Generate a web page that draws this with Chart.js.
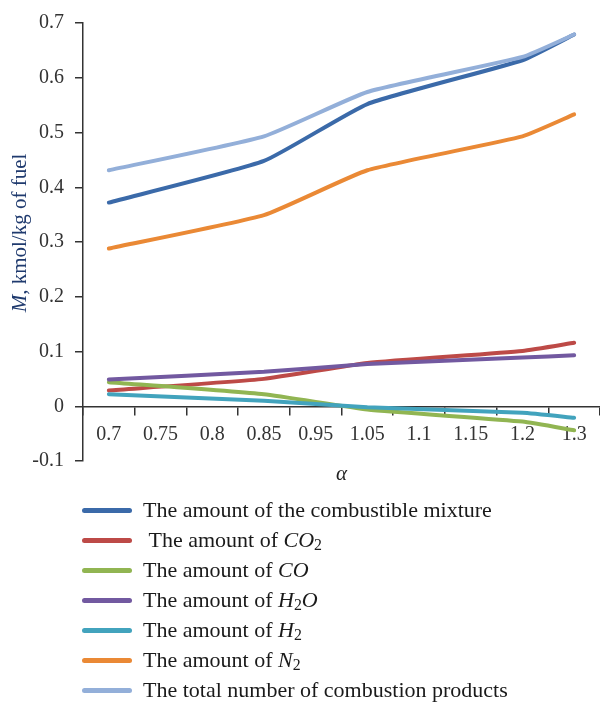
<!DOCTYPE html>
<html>
<head>
<meta charset="utf-8">
<script src="https://cdn.jsdelivr.net/npm/chart.js@4.4.0/dist/chart.umd.min.js"></script>
<style>
  html, body { margin: 0; padding: 0; background: #fff; }
  #wrap { position: relative; width: 600px; height: 704px; overflow: hidden; }
  #chart { position: absolute; left: 0; top: 0; }
  #legend {
    position: absolute; left: 82px; top: 495px;
    font-family: 'Liberation Serif', 'Times New Roman', serif;
    font-size: 22px; color: #1a1a1a;
  }
  .row { height: 30px; display: flex; align-items: center; white-space: nowrap; }
  .swatch { width: 50px; height: 5px; border-radius: 3px; margin-right: 11px; flex: none; }
  sub { font-size: 0.72em; vertical-align: -0.22em; line-height: 0; }
</style>
</head>
<body>
<div id="wrap">
  <canvas id="chart" width="600" height="704"></canvas>
  <div id="legend"></div>
</div>
<script>
// x categories (alpha)
const alphaLabels = ['0.7', '0.75', '0.8', '0.85', '0.95', '1.05', '1.1', '1.15', '1.2', '1.3'];

// values read at the kinks (0.7, 0.85, 1.05, 1.2, 1.3); the rest are left empty
const mixture = [0.372, null, null, 0.448, null, 0.552, null, null, 0.632, 0.679];
const co2     = [0.029, null, null, 0.050, null, 0.079, null, null, 0.101, 0.116];
const co      = [0.044, null, null, 0.022, null, -0.006, null, null, -0.028, -0.044];
const h2o     = [0.049, null, null, 0.063, null, 0.077, null, null, 0.089, 0.093];
const h2      = [0.022, null, null, 0.010, null, -0.002, null, null, -0.012, -0.021];
const n2      = [0.288, null, null, 0.349, null, 0.431, null, null, 0.493, 0.533];
const total   = [0.431, null, null, 0.493, null, 0.574, null, null, 0.638, 0.679];

const seriesNames = [
  'The amount of the combustible mixture',
  '&nbsp;The amount of <i>CO</i><sub>2</sub>',
  'The amount of <i>CO</i>',
  'The amount of <i>H</i><sub>2</sub><i>O</i>',
  'The amount of <i>H</i><sub>2</sub>',
  'The amount of <i>N</i><sub>2</sub>',
  'The total number of combustion products',
];
const seriesData = [mixture, co2, co, h2o, h2, n2, total];
const seriesColors = ['#3b6aa9', '#bd4a47', '#91b552', '#7259a0', '#42a3bd', '#ea8935', '#93afd9'];

const yTicks = { min: -0.1, max: 0.7, step: 0.1 };
const xTitle = 'α';
const yTitleItalic = 'M';
const yTitleRest = ', kmol/kg of fuel';

const axisColor = '#333';
const serif = "'Liberation Serif', 'Times New Roman', serif";

const stripTags = (html) => html.replace(/<[^>]+>/g, '').replace(/&nbsp;/g, '').trim();

const datasets = seriesData.map((data, i) => ({
  label: stripTags(seriesNames[i]),
  data,
  borderColor: seriesColors[i],
  backgroundColor: seriesColors[i],
  borderWidth: 4,
  pointRadius: 0,
  pointHoverRadius: 0,
  tension: 0.15,
  spanGaps: true,
  borderCapStyle: 'round',
  borderJoinStyle: 'round',
  order: seriesData.length - i,
}));

// axis titles: M is italic, the rest upright
const axisTitles = {
  id: 'axisTitles',
  afterDraw(chart) {
    const { ctx, chartArea } = chart;
    ctx.save();
    ctx.fillStyle = '#222';
    ctx.textBaseline = 'middle';
    ctx.textAlign = 'center';
    ctx.font = `italic 21px ${serif}`;
    ctx.fillText(xTitle, (chartArea.left + chartArea.right) / 2, chartArea.bottom + 13);

    ctx.translate(20, 233);
    ctx.rotate(-Math.PI / 2);
    ctx.textAlign = 'left';
    ctx.fillStyle = '#1f3a6e';
    const italicFont = `italic 21px ${serif}`;
    const plainFont = `21px ${serif}`;
    ctx.font = italicFont;
    const w1 = ctx.measureText(yTitleItalic).width;
    ctx.font = plainFont;
    const w2 = ctx.measureText(yTitleRest).width;
    const start = -(w1 + w2) / 2;
    ctx.font = italicFont;
    ctx.fillText(yTitleItalic, start, 0);
    ctx.font = plainFont;
    ctx.fillText(yTitleRest, start + w1, 0);
    ctx.restore();
  },
};

const chart = new Chart(document.getElementById('chart').getContext('2d'), {
  type: 'line',
  data: { labels: alphaLabels, datasets },
  plugins: [axisTitles],
  options: {
    responsive: false,
    animation: false,
    devicePixelRatio: 1,
    layout: { padding: { top: 20, right: 0, bottom: 243, left: 0 } },
    plugins: { legend: { display: false }, tooltip: { enabled: false } },
    scales: {
      x: {
        type: 'category',
        position: { y: 0 },
        offset: true,
        grid: {
          offset: true,
          drawOnChartArea: false,
          drawTicks: true,
          tickLength: 8,
          color: axisColor,
          lineWidth: 1.5,
        },
        border: { display: true, color: axisColor, width: 1.5 },
        ticks: {
          color: '#333',
          font: { family: serif, size: 20 },
          padding: 8,
          maxRotation: 0,
          autoSkip: false,
        },
      },
      y: {
        min: yTicks.min,
        max: yTicks.max,
        afterFit(scale) { scale.width = 83; },
        grid: {
          drawOnChartArea: false,
          drawTicks: true,
          tickLength: 8,
          color: axisColor,
          lineWidth: 1.5,
        },
        border: { display: true, color: axisColor, width: 1.5 },
        ticks: {
          stepSize: yTicks.step,
          color: '#333',
          font: { family: serif, size: 20 },
          padding: 11,
          callback(value) {
            const v = Math.round(value * 10) / 10;
            return v === 0 ? '0' : String(v);
          },
        },
      },
    },
  },
});

// legend built from the chart's own datasets
const legend = document.getElementById('legend');
chart.data.datasets.forEach((ds, i) => {
  const row = document.createElement('div');
  row.className = 'row';
  const swatch = document.createElement('span');
  swatch.className = 'swatch';
  swatch.style.background = ds.borderColor;
  const text = document.createElement('span');
  text.innerHTML = seriesNames[i];
  row.appendChild(swatch);
  row.appendChild(text);
  legend.appendChild(row);
});
</script>
</body>
</html>
